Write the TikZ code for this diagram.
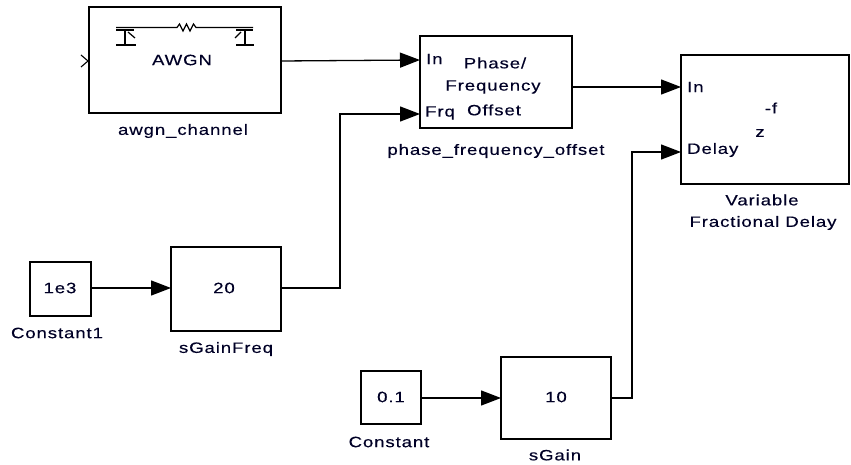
\documentclass[tikz,border=0pt]{standalone}
\usepackage{fontspec}
\setmainfont{Liberation Sans}[FakeStretch=1.24,LetterSpace=6,FakeBold=0.3]
\usetikzlibrary{arrows.meta}
\begin{document}
\begin{tikzpicture}[x=1pt,y=-1pt,
  blk/.style={draw=black,line width=1.6pt,fill=white},
  wire/.style={draw=black,line width=1.3pt},
  sig/.style={wire,-{Triangle[length=20pt,width=15pt]}},
  txt/.style={inner sep=0pt,font=\fontsize{15}{17}\selectfont,text=black!85!blue},
  lbl/.style={txt,align=center}]
\useasboundingbox (0,0) rectangle (851,465);
% blocks
\draw[blk] (89,7) rectangle (281,113);
\coordinate (awgnin) at (89,61);
\coordinate (awgnout) at (281,61);
\draw[blk] (420,36) rectangle (572,128);
\coordinate (pin) at (420,60);
\coordinate (pfrq) at (420,114);
\coordinate (pout) at (572,87);
\draw[blk] (681,55) rectangle (849,184);
\coordinate (vin) at (681,87);
\coordinate (vdel) at (681,152);
\draw[blk] (30,262) rectangle (91,316);
\coordinate (c1out) at (91,288);
\draw[blk] (171,247) rectangle (281,331);
\coordinate (gfin) at (171,288);
\coordinate (gfout) at (281,288);
\draw[blk] (361,371) rectangle (421,424);
\coordinate (c0out) at (421,398);
\draw[blk] (501,357) rectangle (611,439);
\coordinate (gin) at (501,398);
\coordinate (gout) at (611,398);
% input chevron
\draw[wire,line width=1.1pt] (81,55) -- (88,61) -- (81,67);
% AWGN symbol
\begin{scope}[line width=1.2pt]
\draw (116,27.5) -- (177,27.5) -- (179.5,24) -- (183,31) -- (186.5,24) -- (190,31) -- (193.5,24) -- (196,27.5) -- (253,27.5);
\draw (116,30) -- (134,30);
\draw (125,30) -- (125,45);
\draw (116,45) -- (136,45);
\draw (128,32) -- (135,38);
\draw (236,30) -- (253,30);
\draw (245,30) -- (245,45);
\draw (236,45) -- (254,45);
\draw (241,32) -- (235,38);
\end{scope}
% texts
\node[txt] (tawgn) at (182,60) {AWGN};
\node[txt] (lawgn) at (183,131) {awgn\_channel};
\node[txt,anchor=west] (tin1) at (426,59) {In};
\node[txt,anchor=west] (tfrq) at (425,113) {Frq};
\node[txt] (tph) at (495,63) {Phase/};
\node[txt] (tfr) at (493,87) {Frequency};
\node[txt] (tof) at (494,110) {Offset};
\node[txt] (lph) at (496,151) {phase\_frequency\_offset};
\node[txt,anchor=west] (tin2) at (687,87) {In};
\node[txt,anchor=west] (tdel) at (687,150) {Delay};
\node[txt] (tf) at (771,108) {-f};
\node[txt] (tz) at (760,133) {z};
\node[txt] (lv1) at (762,200) {Variable};
\node[txt] (lv2) at (763,223) {Fractional Delay};
\node[txt] (t1e3) at (60,288) {1e3};
\node[txt] (lc1) at (57,333) {Constant1};
\node[txt] (t20) at (224,288) {20};
\node[txt] (lgf) at (226,349) {sGainFreq};
\node[txt] (t01) at (391,397) {0.1};
\node[txt] (lc0) at (389,442) {Constant};
\node[txt] (t10) at (556,397) {10};
\node[txt] (lg) at (555,455) {sGain};
% connections
\draw[sig] (awgnout) -- (pin);
\draw[sig] (pout) -- (vin);
\draw[sig] (c1out) -- (gfin);
\draw[sig] (gfout) -- (340,288) -- (340,114) -- (pfrq);
\draw[sig] (c0out) -- (gin);
\draw[sig] (gout) -- (632,398) -- (632,152) -- (vdel);
\end{tikzpicture}
\end{document}
